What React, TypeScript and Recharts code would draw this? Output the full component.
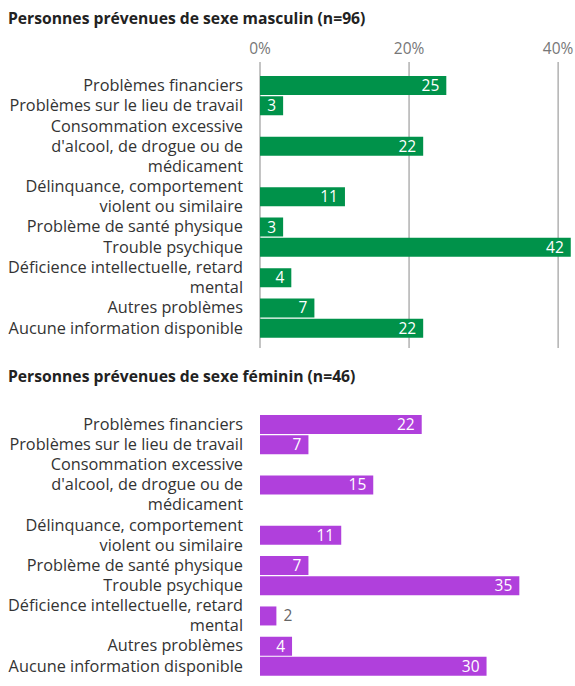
import { BarChart, Bar, XAxis, YAxis, CartesianGrid, LabelList } from "recharts";

const CATEGORIES: string[][] = [
  ["Problèmes financiers"],
  ["Problèmes sur le lieu de travail"],
  ["Consommation excessive", "d'alcool, de drogue ou de", "médicament"],
  ["Délinquance, comportement", "violent ou similaire"],
  ["Problème de santé physique"],
  ["Trouble psychique"],
  ["Déficience intellectuelle, retard", "mental"],
  ["Autres problèmes"],
  ["Aucune information disponible"],
];

// shares in % (labels show them rounded)
const MALE_VALUES = [25.0, 3.1, 21.9, 11.4, 3.1, 41.7, 4.2, 7.3, 21.9];
const FEMALE_VALUES = [21.7, 6.5, 15.2, 10.9, 6.5, 34.8, 2.2, 4.3, 30.4];

const X_TICKS = [0, 20, 40];

const GREEN = "#00924a";
const PURPLE = "#b040dc";
const FONT = "'Open Sans', 'Noto Sans', sans-serif";

// each row takes as many slots as its label has lines
let cum = 0;
const rows = CATEGORIES.map((lines, i) => {
  const pos = cum + lines.length / 2;
  cum += lines.length;
  return { pos, lines, male: MALE_VALUES[i], female: FEMALE_VALUES[i] };
});
const TOTAL = cum;

function CatTick(props: any) {
  const { x, y, payload } = props;
  const row = rows.find((r) => r.pos === payload.value);
  if (!row) return null;
  const n = row.lines.length;
  return (
    <text x={x} y={y} textAnchor="end" fill="#333" fontSize={16.3} fontFamily={FONT}>
      {row.lines.map((l, i) => (
        <tspan key={i} x={x} y={y + (i - (n - 1) / 2) * 20} dy="0.35em">
          {l}
        </tspan>
      ))}
    </text>
  );
}

function ValueLabel(props: any) {
  const { x, y, width, height, value } = props;
  const inside = width > 20;
  return (
    <text
      x={inside ? x + width - 7 : x + width + 7}
      y={y + height / 2}
      dy="0.35em"
      textAnchor={inside ? "end" : "start"}
      fill={inside ? "#fff" : "#666"}
      fontSize={15.5}
      fontFamily={FONT}
    >
      {Math.round(value)}
    </text>
  );
}

function Panel({ dataKey, color, showTicks }: { dataKey: string; color: string; showTicks: boolean }) {
  return (
    <BarChart
      width={567}
      height={showTicks ? 320 : 300}
      data={rows}
      layout="vertical"
      margin={{ top: 0, right: 2, bottom: 0, left: 0 }}
      style={{ overflow: "visible" }}
    >
      <CartesianGrid horizontal={false} stroke="#8a8a8a" verticalValues={X_TICKS} />
      <XAxis
        type="number"
        orientation="top"
        domain={[0, 42]}
        ticks={X_TICKS}
        height={showTicks ? 34 : 15}
        axisLine={false}
        tickLine={false}
        tick={showTicks ? { fill: "#777", fontSize: 15.5, fontFamily: FONT } : false}
        tickFormatter={(v) => `${v}%`}
      />
      <YAxis
        type="number"
        dataKey="pos"
        domain={[0, TOTAL]}
        ticks={rows.map((r) => r.pos)}
        interval={0}
        width={252}
        padding={{ top: 13, bottom: 10 }}
        axisLine={false}
        tickLine={false}
        tickMargin={11}
        tick={<CatTick />}
      />
      <Bar dataKey={dataKey} fill={color} barSize={19} isAnimationActive={false}>
        <LabelList dataKey={dataKey} content={<ValueLabel />} />
      </Bar>
    </BarChart>
  );
}

const titleStyle = {
  fontFamily: FONT,
  fontWeight: 700,
  fontSize: 15.7,
  lineHeight: "20px",
  color: "#222",
  whiteSpace: "nowrap" as const,
};

export default function App() {
  return (
    <div
      style={{
        position: "fixed",
        left: 0,
        top: 0,
        width: 575,
        height: 686,
        overflow: "hidden",
        padding: "8px 0 0 8px",
        boxSizing: "border-box",
        background: "#fff",
      }}
    >
      <div style={titleStyle}>Personnes prévenues de sexe masculin (n=96)</div>
      <Panel dataKey="male" color={GREEN} showTicks={true} />
      <div style={{ ...titleStyle, marginTop: 18 }}>Personnes prévenues de sexe féminin (n=46)</div>
      <Panel dataKey="female" color={PURPLE} showTicks={false} />
    </div>
  );
}
